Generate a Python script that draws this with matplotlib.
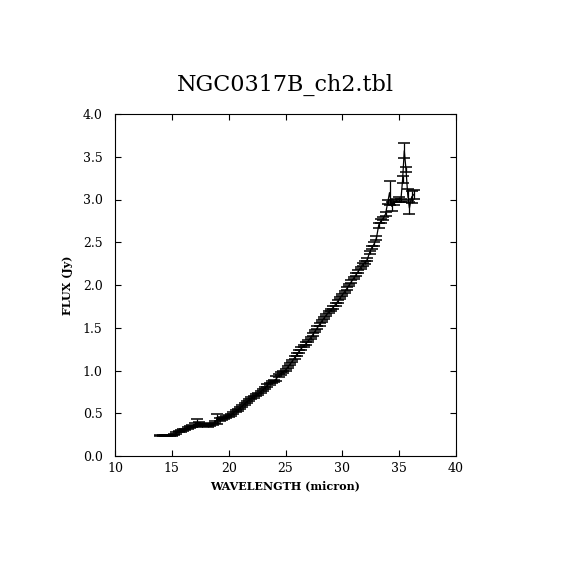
import matplotlib
matplotlib.use("Agg")
import matplotlib.pyplot as plt

# spectrum
wavelength = [14.0, 14.2, 14.4, 14.6, 14.8, 15.0, 15.2, 15.4, 15.6, 15.8,
              16.0, 16.2, 16.4, 16.6, 16.8, 17.0, 17.2, 17.4, 17.6, 17.8,
              18.0, 18.2, 18.4, 18.6, 18.8, 19.0, 19.2, 19.4, 19.6, 19.8,
              20.0, 20.2, 20.4, 20.6, 20.8, 21.0, 21.2, 21.4, 21.6, 21.8,
              22.0, 22.2, 22.4, 22.6, 22.8, 23.0, 23.2, 23.4, 23.6, 23.8,
              24.0, 24.2, 24.4, 24.6, 24.8, 25.0, 25.2, 25.4, 25.6, 25.8,
              26.0, 26.2, 26.4, 26.6, 26.8, 27.0, 27.2, 27.4, 27.6, 27.8,
              28.0, 28.2, 28.4, 28.6, 28.8, 29.0, 29.2, 29.4, 29.6, 29.8,
              30.0, 30.2, 30.4, 30.6, 30.8, 31.0, 31.2, 31.4, 31.6, 31.8,
              32.0, 32.2, 32.4, 32.6, 32.8, 33.0, 33.2, 33.4, 33.6, 33.8,
              34.0, 34.15, 34.35, 34.55, 34.75, 34.95, 35.15, 35.3, 35.45, 35.6,
              35.75, 35.9, 36.1, 36.3]
flux = [0.240, 0.240, 0.241, 0.242, 0.243, 0.245, 0.250, 0.270, 0.285, 0.290,
        0.300, 0.310, 0.330, 0.340, 0.355, 0.370, 0.385, 0.380, 0.375, 0.365,
        0.360, 0.355, 0.360, 0.370, 0.400, 0.430, 0.425, 0.430, 0.440, 0.455,
        0.470, 0.485, 0.505, 0.525, 0.540, 0.565, 0.585, 0.610, 0.635, 0.655,
        0.675, 0.695, 0.715, 0.730, 0.750, 0.775, 0.800, 0.825, 0.845, 0.865,
        0.880, 0.905, 0.940, 0.965, 0.985, 1.005, 1.040, 1.075, 1.110, 1.150,
        1.190, 1.225, 1.260, 1.285, 1.315, 1.345, 1.380, 1.420, 1.460, 1.500,
        1.540, 1.580, 1.615, 1.650, 1.685, 1.710, 1.740, 1.775, 1.810, 1.850,
        1.885, 1.920, 1.960, 2.000, 2.040, 2.080, 2.120, 2.160, 2.200, 2.240,
        2.265, 2.300, 2.380, 2.440, 2.480, 2.550, 2.700, 2.750, 2.780, 2.830,
        2.970, 3.080, 2.920, 2.960, 2.990, 3.000, 2.990, 3.230, 3.570, 3.350,
        3.060, 2.900, 3.030, 3.060]
flux_err = [0.006, 0.006, 0.006, 0.006, 0.006, 0.006, 0.008, 0.010, 0.010, 0.010,
            0.010, 0.010, 0.010, 0.012, 0.012, 0.015, 0.050, 0.015, 0.012, 0.010,
            0.010, 0.010, 0.010, 0.012, 0.015, 0.060, 0.015, 0.012, 0.012, 0.012,
            0.012, 0.012, 0.012, 0.012, 0.012, 0.012, 0.012, 0.012, 0.012, 0.012,
            0.012, 0.012, 0.012, 0.012, 0.012, 0.012, 0.012, 0.015, 0.012, 0.012,
            0.012, 0.030, 0.015, 0.012, 0.012, 0.015, 0.015, 0.012, 0.012, 0.015,
            0.015, 0.015, 0.015, 0.015, 0.015, 0.015, 0.015, 0.015, 0.015, 0.015,
            0.015, 0.015, 0.015, 0.015, 0.015, 0.015, 0.015, 0.015, 0.015, 0.015,
            0.015, 0.015, 0.015, 0.015, 0.015, 0.015, 0.015, 0.015, 0.015, 0.015,
            0.015, 0.015, 0.020, 0.020, 0.020, 0.020, 0.030, 0.020, 0.020, 0.020,
            0.020, 0.140, 0.050, 0.030, 0.020, 0.030, 0.020, 0.040, 0.090, 0.030,
            0.060, 0.070, 0.070, 0.050]

title = "NGC0317B_ch2.tbl"
x_ticks = [10, 15, 20, 25, 30, 35, 40]
y_ticks = [0.0, 0.5, 1.0, 1.5, 2.0, 2.5, 3.0, 3.5, 4.0]

plt.rcParams['font.family'] = ['DejaVu Serif']

fig = plt.figure(figsize=(5.7, 5.7), dpi=100)
ax = fig.add_axes([0.2018, 0.2, 0.5982, 0.6])

ax.errorbar(wavelength, flux, yerr=flux_err, color='black', lw=0.9,
            elinewidth=0.9, capsize=4, capthick=1.1, fmt='-')

ax.set_xlim(10, 40)
ax.set_ylim(0, 4)
ax.set_xticks(x_ticks)
ax.set_xticklabels([str(t) for t in x_ticks])
ax.set_yticks(y_ticks)
ax.set_yticklabels(["%.1f" % t for t in y_ticks])
ax.tick_params(direction='in', length=4.5, width=0.8, top=True, right=True,
               labelsize=9, pad=4)
ax.tick_params(axis='y', pad=9)
for s in ax.spines.values():
    s.set_linewidth(0.8)

ax.set_xlabel("WAVELENGTH (micron)", fontsize=8, fontweight='bold', labelpad=4)
ax.set_ylabel("FLUX (Jy)", fontsize=8, fontweight='bold', labelpad=7)
ax.set_title(title, fontsize=16, pad=17)

fig.savefig("out.png", dpi=100)
